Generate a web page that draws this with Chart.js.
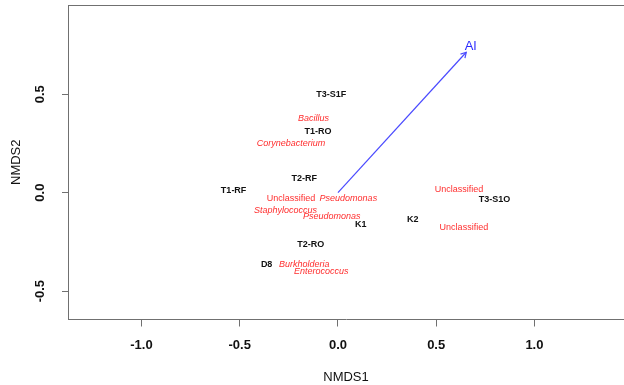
<!DOCTYPE html>
<html>
<head>
<meta charset="utf-8">
<script src="https://cdn.jsdelivr.net/npm/chart.js@4"></script>
<style>
  body { margin: 0; background: #fff; }
  #wrap { width: 624px; height: 385px; position: relative; }
</style>
</head>
<body>
<div id="wrap"><canvas id="nmds"></canvas></div>
<script>
// sample sites (black labels)
const sampleNames = ['T3-S1F', 'T1-RO', 'T2-RF', 'T1-RF', 'K1', 'K2', 'T3-S1O', 'T2-RO', 'D8'];
const sampleX = [-0.034, -0.101, -0.172, -0.531, 0.116, 0.381, 0.797, -0.138, -0.363];
const sampleY = [0.500, 0.310, 0.070, 0.011, -0.161, -0.138, -0.036, -0.264, -0.363];

// genera (red labels)
const taxaNames = ['Bacillus', 'Corynebacterium', 'Unclassified', 'Pseudomonas', 'Staphylococcus',
    'Pseudomonas', 'Unclassified', 'Unclassified', 'Burkholderia', 'Enterococcus'];
const taxaItalic = [true, true, false, true, true, true, false, false, true, true];
const taxaX = [-0.125, -0.239, -0.239, 0.053, -0.267, -0.032, 0.616, 0.641, -0.172, -0.085];
const taxaY = [0.379, 0.252, -0.029, -0.029, -0.090, -0.122, 0.018, -0.178, -0.363, -0.402];

// environmental vector
const vectorName = 'Al';
const vectorX = [0, 0.653];
const vectorY = [0, 0.713];
const vectorLabelX = [0.675];
const vectorLabelY = [0.742];

const xTicks = [-1.0, -0.5, 0.0, 0.5, 1.0];
const yTicks = [-0.5, 0.0, 0.5];
const xRange = [-1.374, 1.456];
const yRange = [-0.644, 0.953];

const FRAME = '#707070';
const FONT = 'Liberation Sans, Arial, Helvetica, sans-serif';

const toPoints = (xs, ys) => xs.map((x, i) => ({ x, y: ys[i] }));

// draws the text labels at each point of the labelled datasets
const textLabels = {
    id: 'textLabels',
    afterDatasetsDraw(chart) {
        const ctx = chart.ctx;
        chart.data.datasets.forEach((ds, di) => {
            if (!ds.labels) return;
            const meta = chart.getDatasetMeta(di);
            ctx.save();
            ctx.textAlign = 'center';
            ctx.textBaseline = 'middle';
            ctx.fillStyle = ds.labelColor;
            meta.data.forEach((pt, i) => {
                const italic = ds.italic && ds.italic[i] ? 'italic ' : '';
                ctx.font = italic + ds.labelFont;
                ctx.fillText(ds.labels[i], pt.x, pt.y);
            });
            ctx.restore();
        });
    }
};

// arrow head on the vector + top frame line
const vectorArrow = {
    id: 'vectorArrow',
    afterDatasetsDraw(chart) {
        const ctx = chart.ctx;
        const { left, right, top } = chart.chartArea;
        ctx.save();
        ctx.strokeStyle = FRAME;
        ctx.lineWidth = 1;
        ctx.beginPath();
        ctx.moveTo(left, top + 0.5);
        ctx.lineTo(right, top + 0.5);
        ctx.stroke();

        const meta = chart.getDatasetMeta(0);
        const a = meta.data[0], b = meta.data[1];
        const ang = Math.atan2(b.y - a.y, b.x - a.x);
        const len = 6;
        ctx.strokeStyle = '#4a4aff';
        ctx.lineWidth = 1.2;
        ctx.beginPath();
        ctx.moveTo(b.x - len * Math.cos(ang - Math.PI / 6), b.y - len * Math.sin(ang - Math.PI / 6));
        ctx.lineTo(b.x, b.y);
        ctx.lineTo(b.x - len * Math.cos(ang + Math.PI / 6), b.y - len * Math.sin(ang + Math.PI / 6));
        ctx.stroke();
        ctx.restore();
    }
};

new Chart(document.getElementById('nmds'), {
    type: 'scatter',
    data: {
        datasets: [
            {
                type: 'line',
                data: toPoints(vectorX, vectorY),
                borderColor: '#4a4aff',
                borderWidth: 1.2,
                pointRadius: 0,
                fill: false
            },
            {
                data: toPoints(vectorLabelX, vectorLabelY),
                pointRadius: 0,
                labels: [vectorName],
                labelColor: '#2a2aff',
                labelFont: '13px ' + FONT
            },
            {
                data: toPoints(sampleX, sampleY),
                pointRadius: 0,
                labels: sampleNames,
                labelColor: '#111',
                labelFont: 'bold 9px ' + FONT
            },
            {
                data: toPoints(taxaX, taxaY),
                pointRadius: 0,
                labels: taxaNames,
                italic: taxaItalic,
                labelColor: '#ff2e2e',
                labelFont: '9px ' + FONT
            }
        ]
    },
    options: {
        responsive: true,
        maintainAspectRatio: false,
        animation: false,
        layout: { padding: { top: 5, right: 0, bottom: 0, left: 0 } },
        plugins: { legend: { display: false }, tooltip: { enabled: false } },
        scales: {
            x: {
                type: 'linear',
                min: xRange[0],
                max: xRange[1],
                afterBuildTicks: (s) => { s.ticks = xTicks.map(v => ({ value: v })); },
                afterFit: (s) => { s.height = 65.5; s.paddingLeft = 0; s.paddingRight = 0; },
                grid: { drawOnChartArea: false, drawTicks: true, tickLength: 7, color: FRAME },
                border: { display: true, color: FRAME, width: 1 },
                ticks: {
                    padding: 11,
                    color: '#111',
                    font: { family: FONT, size: 13, weight: 'bold' },
                    callback: (v) => v.toFixed(1)
                },
                title: {
                    display: true,
                    text: 'NMDS1',
                    color: '#111',
                    font: { family: FONT, size: 13 },
                    padding: { top: 0, bottom: 0 }
                }
            },
            y: {
                type: 'linear',
                min: yRange[0],
                max: yRange[1],
                afterBuildTicks: (s) => { s.ticks = yTicks.map(v => ({ value: v })); },
                afterFit: (s) => { s.width = 68; s.paddingTop = 0; s.paddingBottom = 0; },
                grid: { drawOnChartArea: false, drawTicks: true, tickLength: 6, color: FRAME },
                border: { display: true, color: FRAME, width: 1 },
                ticks: {
                    minRotation: 90,
                    maxRotation: 90,
                    crossAlign: 'center',
                    padding: 10,
                    color: '#111',
                    font: { family: FONT, size: 13, weight: 'bold' },
                    callback: (v) => v.toFixed(1)
                },
                title: {
                    display: true,
                    text: 'NMDS2',
                    color: '#111',
                    font: { family: FONT, size: 13 },
                    padding: { top: 9, bottom: 0 }
                }
            }
        }
    },
    plugins: [textLabels, vectorArrow]
});
</script>
</body>
</html>
